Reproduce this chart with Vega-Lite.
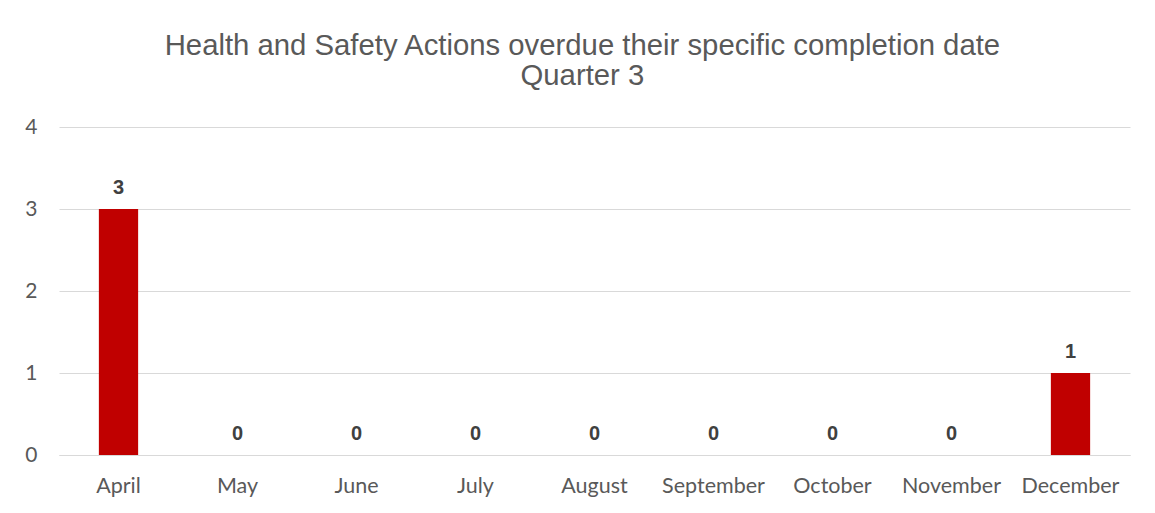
{
  "$schema": "https://vega.github.io/schema/vega-lite/v6.json",
  "width": 1071,
  "height": 328,
  "autosize": {"type": "none"},
  "padding": {"left": 59, "top": 127, "right": 25, "bottom": 58},
  "background": "white",
  "title": {
    "text": ["Health and Safety Actions overdue their specific completion date", "Quarter 3"],
    "font": "Liberation Sans",
    "fontSize": 29.3,
    "fontWeight": "normal",
    "color": "#595959",
    "anchor": "middle",
    "frame": "bounds",
    "lineHeight": 30,
    "offset": 25,
    "dx": 5
  },
  "data": {
    "values": [
      {"month": "April", "count": 3},
      {"month": "May", "count": 0},
      {"month": "June", "count": 0},
      {"month": "July", "count": 0},
      {"month": "August", "count": 0},
      {"month": "September", "count": 0},
      {"month": "October", "count": 0},
      {"month": "November", "count": 0},
      {"month": "December", "count": 1}
    ]
  },
  "encoding": {
    "x": {
      "field": "month",
      "type": "nominal",
      "sort": null,
      "scale": {"paddingInner": 0.67, "paddingOuter": 0.335},
      "axis": {
        "title": null,
        "labelAngle": 0,
        "ticks": false,
        "domain": true,
        "domainColor": "#d9d9d9",
        "labelFont": "Lato",
        "labelFontSize": 21.5,
        "labelColor": "#595959",
        "labelPadding": 20
      }
    },
    "y": {
      "field": "count",
      "type": "quantitative",
      "scale": {"domain": [0, 4]},
      "axis": {
        "title": null,
        "values": [0, 1, 2, 3, 4],
        "ticks": false,
        "domain": false,
        "gridColor": "#d9d9d9",
        "labelFont": "Lato",
        "labelFontSize": 21,
        "labelColor": "#595959",
        "labelPadding": 22
      }
    }
  },
  "layer": [
    {"mark": {"type": "bar", "color": "#c00000"}},
    {
      "mark": {"type": "text", "baseline": "alphabetic", "dy": -15, "font": "Liberation Sans", "fontSize": 20, "fontWeight": "bold", "color": "#404040"},
      "encoding": {"text": {"field": "count", "type": "quantitative"}}
    }
  ],
  "config": {"view": {"stroke": null}}
}
